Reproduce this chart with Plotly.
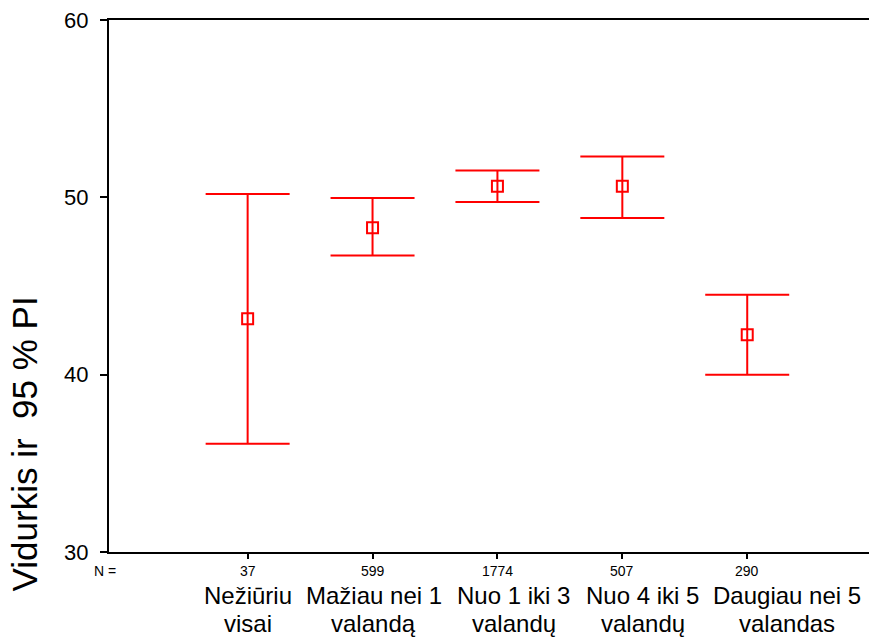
import plotly.graph_objects as go

categories = ["Nežiūriu<br>visai", "Mažiau nei 1<br>valandą", "Nuo 1 iki 3<br>valandų",
              "Nuo 4 iki 5<br>valandų", "Daugiau nei 5<br>valandas"]
n_counts = ["37", "599", "1774", "507", "290"]
means = [43.15, 48.28, 50.62, 50.62, 42.25]
upper = [50.19, 49.96, 51.52, 52.30, 44.50]
lower = [36.10, 46.72, 49.74, 48.84, 40.00]
y_ticks = [30, 40, 50, 60]

xpos = list(range(1, len(categories) + 1))
# label blocks in the original are laid out left-to-right, slightly offset from ticks
label_shift = [0.002, 0.011, 0.132, 0.165, 0.318]
err_plus = [u - m for u, m in zip(upper, means)]
err_minus = [m - l for m, l in zip(means, lower)]

FONT = "Arial, Liberation Sans, sans-serif"
RED = "#FF0000"

fig = go.Figure()
fig.add_trace(go.Scatter(
    x=xpos, y=means, mode="markers",
    marker=dict(symbol="square-open", size=11, color=RED, line=dict(width=2, color=RED)),
    error_y=dict(type="data", symmetric=False, array=err_plus, arrayminus=err_minus,
                 color=RED, thickness=2, width=42),
    showlegend=False, hoverinfo="skip",
))

fig.update_layout(
    width=869, height=631,
    margin=dict(l=101, r=0, t=10, b=87),
    paper_bgcolor="white", plot_bgcolor="white",
    font=dict(family=FONT, color="black"),
    xaxis=dict(range=[-0.110, 6.039], tickvals=xpos, ticktext=[""] * len(xpos),
               showgrid=False, zeroline=False, showline=True, linecolor="black", linewidth=2,
               mirror=True, ticks="outside", ticklen=5, tickwidth=1.5, tickcolor="black"),
    yaxis=dict(range=[30, 60], tickvals=y_ticks, showgrid=False, zeroline=False,
               showline=True, linecolor="black", linewidth=2, mirror=False,
               ticks="outside", ticklen=7, tickwidth=1.5, tickcolor="black",
               ticklabeloverflow="allow", ticklabelstandoff=7,
               tickfont=dict(size=22, family=FONT, color="black")),
)

for x, sh, lab, n in zip(xpos, label_shift, categories, n_counts):
    fig.add_annotation(x=x, xref="x", y=-0.0356, yref="paper", text=n, showarrow=False,
                       xanchor="center", yanchor="middle", font=dict(size=14, family=FONT))
    lines = lab.split("<br>")
    for i, line in enumerate(lines):
        fig.add_annotation(x=x + sh, xref="x", y=-0.0524 - 0.0525 * i, yref="paper", text=line,
                           showarrow=False, xanchor="center", yanchor="top",
                           font=dict(size=24, family=FONT))

fig.add_annotation(x=-0.005, xref="paper", y=-0.0356, yref="paper", text="N =", showarrow=False,
                   xanchor="center", yanchor="middle", font=dict(size=14, family=FONT))

fig.add_annotation(x=-0.1095, xref="paper", y=0.204, yref="paper", text="Vidurkis ir  95 % PI",
                   textangle=-90, showarrow=False, xanchor="center", yanchor="middle",
                   font=dict(size=35, family=FONT))

fig.write_html("out.html")
